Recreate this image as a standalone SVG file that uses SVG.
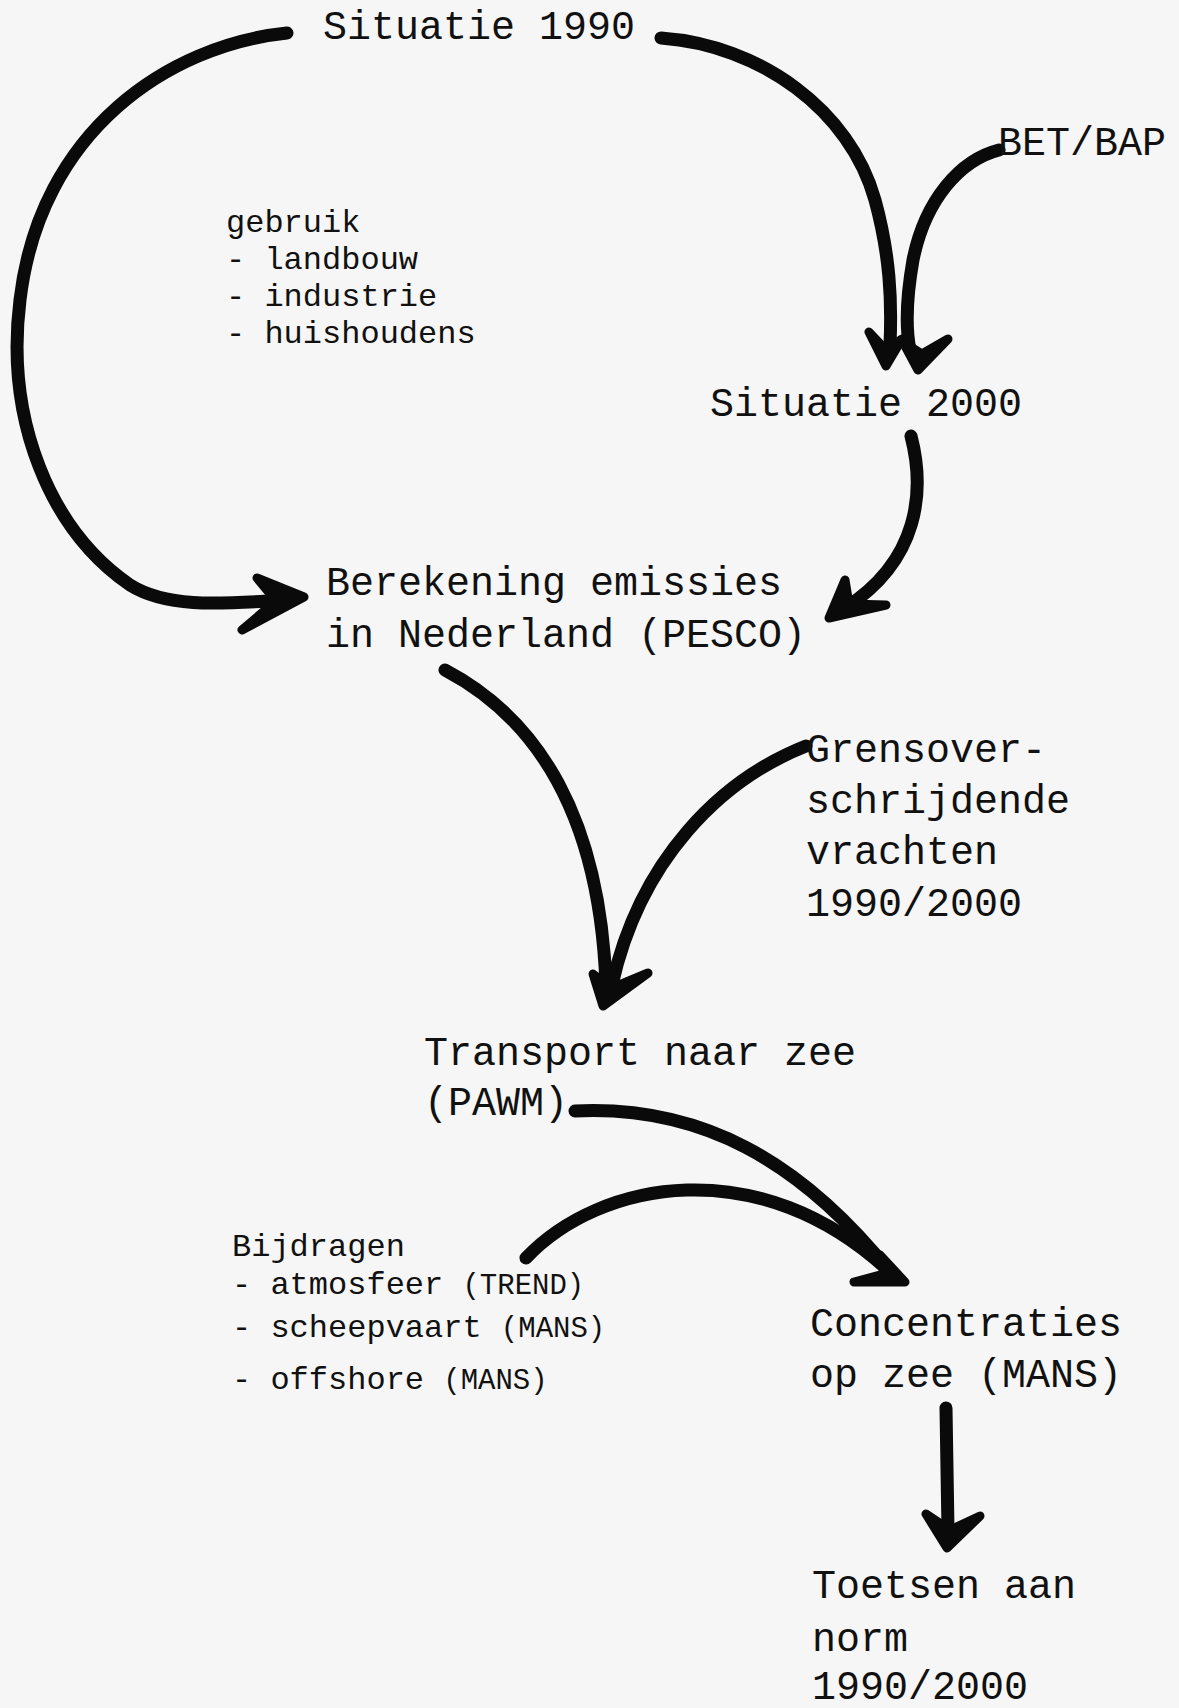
<svg xmlns="http://www.w3.org/2000/svg" width="1179" height="1708" viewBox="0 0 1179 1708">
<style>
.t{font-family:"Liberation Mono","Courier New",monospace;font-size:40px;fill:#111}
.s{font-family:"Liberation Mono","Courier New",monospace;font-size:32px;fill:#111}
.p{font-size:29px}
.c{fill:none;stroke:#0a0a0a;stroke-width:13;stroke-linecap:round;stroke-linejoin:round}
.h{fill:#0a0a0a;stroke:#0a0a0a;stroke-width:9;stroke-linejoin:round}
</style>
<rect width="1179" height="1708" fill="#f6f6f6"/>
<g id="connectors">
<path class="c" d="M287,33 C170,45 40,130 20,300 C5,420 50,530 130,585 C170,610 230,603 285,600"/>
<path class="h" d="M257,578 L304,597 L242,630 L276,601 Z"/>
<path class="c" d="M661,38 C760,45 850,110 875,200 C890,255 892,300 890,345"/>
<path class="h" d="M869,332 L886,366 L902,339 L886,350 Z"/>
<path class="c" d="M999,150 C960,160 925,200 913,260 C906,300 906,330 910,350"/>
<path class="h" d="M903,342 L918,370 L948,339 L922,354 Z"/>
<path class="c" d="M911,436 C925,490 920,560 845,608"/>
<path class="h" d="M845,580 L829,618 L886,605 L849,604 Z"/>
<path class="c" d="M445,670 C540,720 600,820 606,985"/>
<path class="c" d="M806,746 C720,780 640,860 612,985"/>
<path class="h" d="M593,974 L603,1006 L648,973 L612,988 Z"/>
<path class="c" d="M575,1111 C700,1105 800,1160 890,1272"/>
<path class="c" d="M526,1258 C600,1180 760,1150 890,1272"/>
<path class="h" d="M880,1255 L905,1282 L854,1282 L884,1274 Z"/>
<path class="c" d="M946,1408 L948,1530"/>
<path class="h" d="M926,1514 L947,1548 L980,1516 L950,1530 Z"/>
</g>
<g id="n-situatie1990"><text class="t" x="323" y="39">Situatie 1990</text></g>
<g id="n-betbap"><text class="t" x="998" y="155">BET/BAP</text></g>
<g id="n-gebruik"><text class="s" x="226" y="232">gebruik</text><text class="s" x="226" y="269">- landbouw</text><text class="s" x="226" y="306">- industrie</text><text class="s" x="226" y="343">- huishoudens</text></g>
<g id="n-situatie2000"><text class="t" x="710" y="416">Situatie 2000</text></g>
<g id="n-berekening"><text class="t" x="326" y="595">Berekening emissies</text><text class="t" x="326" y="647">in Nederland (PESCO)</text></g>
<g id="n-grens"><text class="t" x="806" y="762">Grensover-</text><text class="t" x="806" y="813">schrijdende</text><text class="t" x="806" y="864">vrachten</text><text class="t" x="806" y="916">1990/2000</text></g>
<g id="n-transport"><text class="t" x="424" y="1065">Transport naar zee</text><text class="t" x="424" y="1115">(PAWM)</text></g>
<g id="n-bijdragen"><text class="s" x="232" y="1256">Bijdragen</text><text class="s" x="232" y="1294">- atmosfeer <tspan class="p">(TREND)</tspan></text><text class="s" x="232" y="1337">- scheepvaart <tspan class="p">(MANS)</tspan></text><text class="s" x="232" y="1389">- offshore <tspan class="p">(MANS)</tspan></text></g>
<g id="n-concentraties"><text class="t" x="810" y="1336">Concentraties</text><text class="t" x="810" y="1387">op zee (MANS)</text></g>
<g id="n-toetsen"><text class="t" x="812" y="1598">Toetsen aan</text><text class="t" x="812" y="1651">norm</text><text class="t" x="812" y="1699">1990/2000</text></g>
</svg>
